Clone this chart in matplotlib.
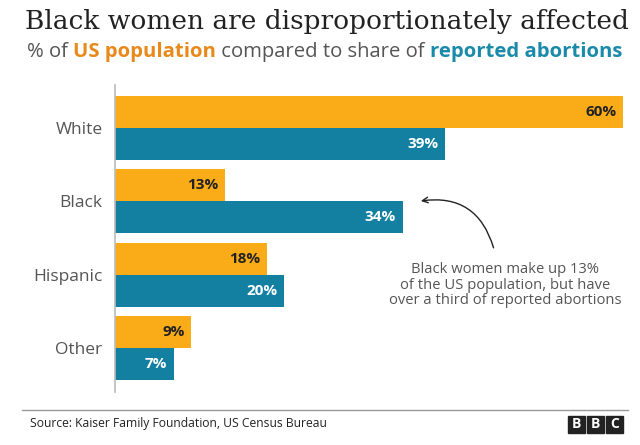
import matplotlib.pyplot as plt
from matplotlib.patches import Rectangle

groups = ["White", "Black", "Hispanic", "Other"]
population = [60, 13, 18, 9]
abortions = [39, 34, 20, 7]

ORANGE = "#FAAB18"
BLUE = "#1380A1"
GREY = "#555555"

plt.rcParams['font.family'] = ['Open Sans', 'DejaVu Sans']

fig = plt.figure(figsize=(6.4, 4.45), dpi=100)
ax = fig.add_axes([115 / 640, 1 - 392 / 445, 508 / 640, 307 / 445])

ypos = list(range(len(groups)))
h = 0.437
ax.barh([y - h / 2 for y in ypos], population, height=h, color=ORANGE)
ax.barh([y + h / 2 for y in ypos], abortions, height=h, color=BLUE)

for y, v in zip(ypos, population):
    ax.text(v - 0.8, y - h / 2, f"{v}%", ha="right", va="center",
            fontsize=11, fontweight="bold", color="#222222")
for y, v in zip(ypos, abortions):
    ax.text(v - 0.8, y + h / 2, f"{v}%", ha="right", va="center",
            fontsize=11, fontweight="bold", color="white")

ax.set_xlim(0, 60)
ax.set_ylim(3.6, -0.587)
ax.set_yticks(ypos)
ax.set_yticklabels(groups, fontsize=12.5, color=GREY)
ax.tick_params(axis="y", length=0, pad=9)
ax.set_xticks([])
for s in ["top", "right", "bottom"]:
    ax.spines[s].set_visible(False)
ax.spines["left"].set_color("#bbbbbb")
ax.spines["left"].set_linewidth(1.2)

# annotation
ax.text(46.1, 1.83, "Black women make up 13%\nof the US population, but have\nover a third of reported abortions",
        ha="center", va="top", fontsize=10.6, color=GREY, linespacing=1.05)
ax.annotate("", xy=(35.8, 1.0), xytext=(44.8, 1.67),
            arrowprops=dict(arrowstyle="->", color="#222222", lw=1.0,
                            connectionstyle="arc3,rad=0.45"))

# title and subtitle
fig.text(25 / 640, 1 - 22 / 445, "Black women are disproportionately affected",
         fontsize=19, family=["DejaVu Serif"], color="#222222", va="center")

fig.canvas.draw()
renderer = fig.canvas.get_renderer()
parts = [("% of ", GREY, "normal"), ("US population", "#E8891A", "bold"),
         (" compared to share of ", GREY, "normal"),
         ("reported abortions", "#1A8AAB", "bold")]
x = 27 / 640
for txt, col, w in parts:
    t = fig.text(x, 1 - 52 / 445, txt, fontsize=14.6, color=col, fontweight=w, va="center")
    bb = t.get_window_extent(renderer)
    x += bb.width / fig.bbox.width

# footer
fig.add_artist(plt.Line2D([22 / 640, 628 / 640], [1 - 410 / 445, 1 - 410 / 445],
                          color="#999999", lw=1))
fig.text(30 / 640, 1 - 424 / 445, "Source: Kaiser Family Foundation, US Census Bureau",
         fontsize=8.7, color="#222222", va="center")
for i, letter in enumerate("BBC"):
    x0 = (568 + i * 19) / 640
    fig.add_artist(Rectangle((x0, 1 - 433 / 445), 17 / 640, 17 / 445,
                             transform=fig.transFigure, color="#222222"))
    fig.text(x0 + 8.5 / 640, 1 - 424.5 / 445, letter, fontsize=10, fontweight="bold",
             color="white", ha="center", va="center")

fig.savefig("out.png", dpi=100)
